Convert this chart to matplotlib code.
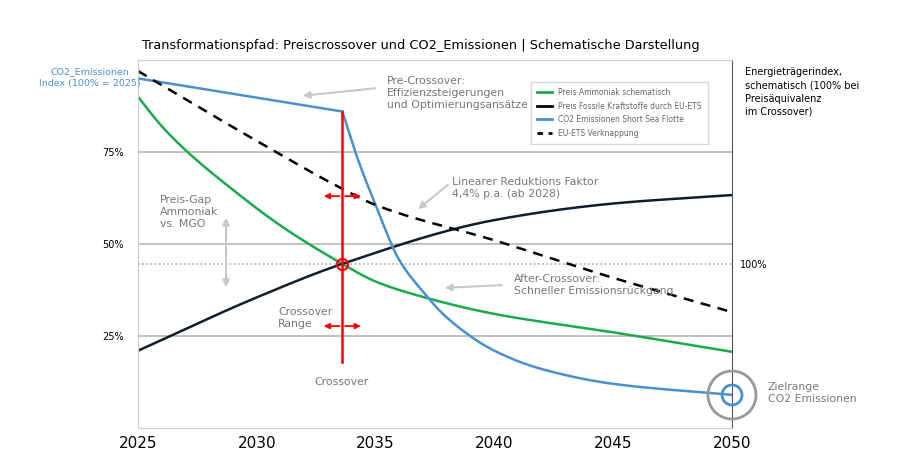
import matplotlib
matplotlib.use("Agg")
import matplotlib.pyplot as plt
import numpy as np
from matplotlib.patches import Circle
from matplotlib.lines import Line2D

years_blue = [2025, 2033.6, 2034.2, 2035, 2036, 2037, 2038, 2040, 2042, 2045, 2050]
blue = [95, 86, 74, 60.6, 45.6, 37, 30, 21, 16, 12, 9]
years = [2025, 2026, 2027, 2029, 2031, 2033.6, 2035, 2037, 2040, 2045, 2050]
green = [90, 82, 75.5, 64.7, 55, 44.6, 39.8, 35.6, 31, 26, 20.7]
years_b = [2025, 2030, 2033.6, 2040, 2045, 2050]
black = [21, 35.5, 44.6, 56.5, 61, 63.3]
years_d = [2025, 2030, 2033.6, 2035, 2040, 2045, 2050]
dashed = [97, 78, 65, 60.6, 51, 40.8, 31.5]
crossover_year = 2033.6
crossover_val = 44.6
xticks = [2025, 2030, 2035, 2040, 2045, 2050]

def smooth(x, y, n=300):
    x = np.asarray(x, float); y = np.asarray(y, float)
    xs = np.linspace(x[0], x[-1], n)
    h = np.diff(x); d = np.diff(y) / h
    m = np.zeros_like(y)
    m[0], m[-1] = d[0], d[-1]
    for i in range(1, len(y) - 1):
        if d[i-1] * d[i] > 0:
            w1 = 2*h[i] + h[i-1]; w2 = h[i] + 2*h[i-1]
            m[i] = (w1 + w2) / (w1/d[i-1] + w2/d[i])
    idx = np.clip(np.searchsorted(x, xs) - 1, 0, len(h) - 1)
    t = (xs - x[idx]) / h[idx]
    h00 = 2*t**3 - 3*t**2 + 1; h10 = t**3 - 2*t**2 + t
    h01 = -2*t**3 + 3*t**2; h11 = t**3 - t**2
    ys = h00*y[idx] + h10*h[idx]*m[idx] + h01*y[idx+1] + h11*h[idx]*m[idx+1]
    return xs, ys

fig = plt.figure(figsize=(9.07, 4.76), dpi=100)
ax = fig.add_axes([138/907, 1-428/476, (732-138)/907, (428-60)/476])
ax.set_xlim(2025, 2050)
ax.set_ylim(0, 100)

green_c = "#1aaa4a"; blue_c = "#4a90d0"; black_c = "#0d1f2d"; gray = "#b8b8b8"
for v in [25, 50, 75]:
    ax.axhline(v, color=gray, lw=1.2, zorder=0)
ax.axhline(crossover_val, color="#aaaaaa", lw=1.2, ls=(0, (1, 1.5)), zorder=0)

ax.plot(*smooth(years, green), color=green_c, lw=1.8)
ax.plot(*smooth(years_b, black), color=black_c, lw=1.8)
ax.plot(years_blue[:2], blue[:2], color=blue_c, lw=1.8)
ax.plot(*smooth(years_blue[1:], blue[1:]), color=blue_c, lw=1.8)
ax.plot(*smooth(years_d, dashed), color="black", lw=1.8, ls=(0, (4, 3)))

ax.plot([crossover_year, crossover_year], [18, 86], color="red", lw=1.8)
for yv in [63, 27.7]:
    for dx in (-0.9, 0.9):
        ax.annotate("", xy=(crossover_year + dx, yv), xytext=(crossover_year, yv),
                    arrowprops=dict(arrowstyle="-|>", color="red", lw=1.3, mutation_scale=8))
ax.plot(crossover_year, crossover_val, "o", mfc="none", mec="red", ms=8, mew=1.5)

for s in ["top", "left", "bottom"]:
    ax.spines[s].set_color("#cccccc")
ax.spines["right"].set_color("#555555")
ax.set_xticks(xticks)
ax.set_xticklabels([str(x) for x in xticks], fontsize=11)
ax.tick_params(axis="x", length=0, pad=6)
ax.set_yticks([25, 50, 75])
ax.set_yticklabels(["25%", "50%", "75%"], fontsize=7)
ax.tick_params(axis="y", length=0, pad=10)

fig.patches.append(Circle((732, 476-395), 24, transform=None, fill=False, ec="#999999", lw=2))
fig.patches.append(Circle((732, 476-395), 10, transform=None, fill=False, ec=blue_c, lw=2))

def P(x, y):
    return (x/907, 1 - y/476)

fig.text(*P(142, 45), "Transformationspfad: Preiscrossover und CO2_Emissionen | Schematische Darstellung",
         fontsize=9.3, va="center")
fig.text(*P(90, 78), "CO2_Emissionen\nIndex (100% = 2025)", fontsize=6.8, color=blue_c,
         ha="center", va="center", linespacing=1.4)
fig.text(*P(745, 92), "Energieträgerindex,\nschematisch (100% bei\nPreisäquivalenz\nim Crossover)",
         fontsize=7, va="center", linespacing=1.4)
fig.text(*P(740, 265), "100%", fontsize=7, va="center")
fig.text(*P(387, 93), "Pre-Crossover:\nEffizienzsteigerungen\nund Optimierungsansätze",
         fontsize=7.8, color="#777777", va="center", linespacing=1.3)
fig.text(*P(452, 188), "Linearer Reduktions Faktor\n4,4% p.a. (ab 2028)",
         fontsize=7.8, color="#777777", va="center", linespacing=1.3)
fig.text(*P(514, 285), "After-Crossover:\nSchneller Emissionsrückgang",
         fontsize=7.8, color="#777777", va="center", linespacing=1.3)
fig.text(*P(160, 212), "Preis-Gap\nAmmoniak\nvs. MGO", fontsize=7.8, color="#777777",
         va="center", linespacing=1.3)
fig.text(*P(278, 318), "Crossover\nRange", fontsize=7.8, color="#777777", va="center", linespacing=1.3)
fig.text(*P(314, 382), "Crossover", fontsize=7.8, color="#777777", va="center")
fig.text(*P(768, 393), "Zielrange\nCO2 Emissionen", fontsize=7.8, color="#777777",
         va="center", linespacing=1.3)

arr = dict(arrowstyle="-|>", color="#c8c8c8", lw=1.5, mutation_scale=10)
ax.annotate("", xy=P(300, 96), xytext=P(378, 88), xycoords="figure fraction", arrowprops=arr)
ax.annotate("", xy=P(416, 211), xytext=P(450, 183), xycoords="figure fraction", arrowprops=arr)
ax.annotate("", xy=P(442, 288), xytext=P(505, 285), xycoords="figure fraction", arrowprops=arr)
ax.annotate("", xy=P(226, 290), xytext=P(226, 215), xycoords="figure fraction",
            arrowprops=dict(arrowstyle="<|-|>", color="#c8c8c8", lw=1.5, mutation_scale=10))

handles = [Line2D([], [], color=green_c, lw=2), Line2D([], [], color="black", lw=2),
           Line2D([], [], color=blue_c, lw=2), Line2D([], [], color="black", lw=2, ls=(0, (2, 2)))]
labels = ["Preis Ammoniak schematisch", "Preis Fossile Kraftstoffe durch EU-ETS",
          "CO2 Emissionen Short Sea Flotte", "EU-ETS Verknappung"]
fig.legend(handles, labels, loc="upper left", bbox_to_anchor=P(527, 78), fontsize=5.5,
           frameon=True, fancybox=False, edgecolor="#cccccc", handlelength=2,
           labelcolor="#666666", borderpad=0.8, labelspacing=0.6)
fig.savefig("out.png", dpi=100)
